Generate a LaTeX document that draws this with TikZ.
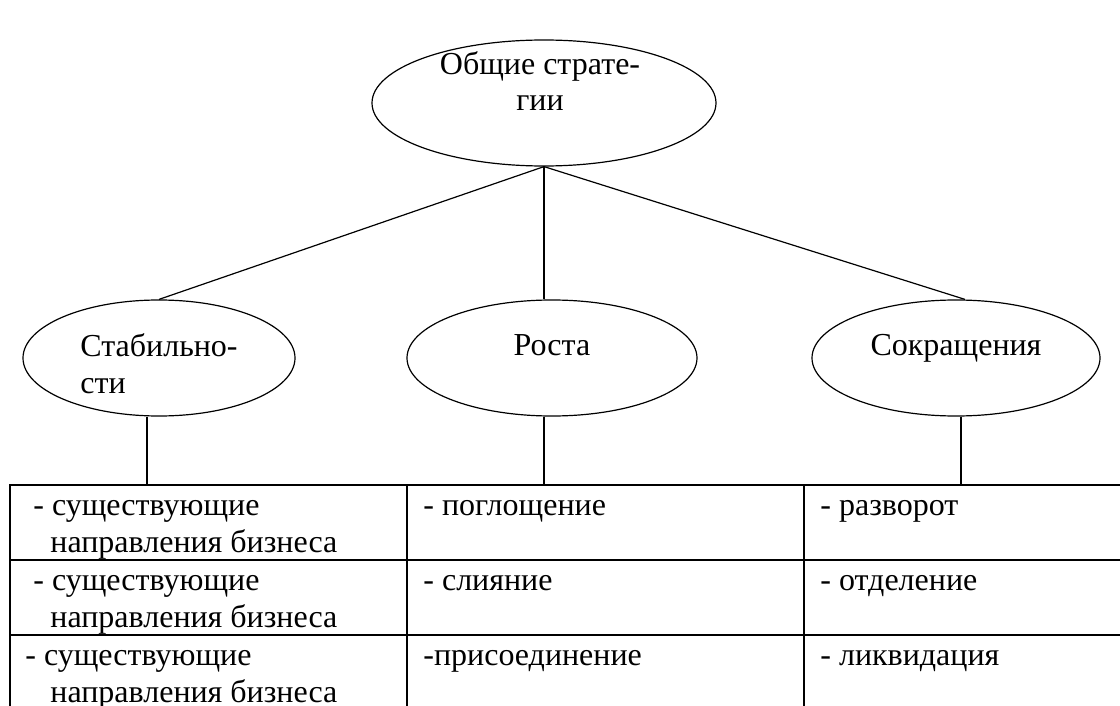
\documentclass[tikz,border=0pt]{standalone}
\usepackage{fontspec}
\setmainfont{Liberation Serif}
\usetikzlibrary{positioning, calc, shapes.geometric}
\tikzset{
  stratfig/.style={
    x=0.5pt, y=-0.5pt,
    every node/.append style={font=\fontsize{16}{18.4}\selectfont},
  },
  stratnode/.style={draw, ellipse, line width=0.6pt, inner sep=0pt},
  stratlabel/.style={inner sep=0pt, align=center, anchor=base},
  link/.style={draw, line width=0.6pt},
  cellline/.style={draw, line width=1pt},
  celltext/.style={inner sep=0pt, align=left, anchor=base west},
}

\begin{document}
\begin{tikzpicture}[stratfig]
  \useasboundingbox (0,0) rectangle (1120,706);
  % Ellipsen
  \node[stratnode, minimum width=172pt, minimum height=63pt] (General) at (544,103) {};
  \node[stratnode, minimum width=136pt, minimum height=58pt] (Stability) at (159,358) {};
  \node[stratnode, minimum width=145pt, minimum height=58pt] (Growth) at (552,358) {};
  \node[stratnode, minimum width=144pt, minimum height=58pt] (Reduction) at (956,358) {};
  % Basislinie = letzte Zeile
  \node[stratlabel] (GeneralText) at (540,111) {Общие страте-\\гии};
  \node[stratlabel, align=left, anchor=base west] (StabilityText) at (80,393) {Стабильно-\\сти};
  \node[stratlabel] (GrowthText) at (552,355) {Роста};
  \node[stratlabel] (ReductionText) at (956,355) {Сокращения};
  % Tabelle
  \coordinate (TableTop) at (10,485);
  \draw[cellline] (1120,485) -- (TableTop) -- (10,706);
  \draw[cellline] (10,560) -- (1120,560);
  \draw[cellline] (10,635) -- (1120,635);
  \draw[cellline] (407,485) -- (407,706);
  \draw[cellline] (804,485) -- (804,706);
  % Verbindungen
  \coordinate (StabFoot) at ($(Stability.south)+(-12,0)$);
  \coordinate (RedHead) at ($(Reduction.north)+(9,0)$);
  \coordinate (RedFoot) at ($(Reduction.south)+(5,0)$);
  \draw[link] (General.south) -- (Stability.north);
  \draw[link] (General.south) -- (General.south |- Growth.north);
  \draw[link] (General.south) -- (RedHead);
  \draw[link] (StabFoot) -- (StabFoot |- TableTop);
  \draw[link] (General.south |- Growth.south) -- (General.south |- TableTop);
  \draw[link] (RedFoot) -- (RedFoot |- TableTop);
  % Zellen
  \node[celltext] (Stab1) at (33,552) {- существующие\\\hspace*{8.5pt}направления бизнеса};
  \node[celltext] (Stab2) at (33,627) {- существующие\\\hspace*{8.5pt}направления бизнеса};
  \node[celltext] (Stab3) at (25,702) {- существующие\\\hspace*{12.5pt}направления бизнеса};
  \node[celltext] (Grow1) at (423,515) {- поглощение};
  \node[celltext] (Grow2) at (423,590) {- слияние};
  \node[celltext] (Grow3) at (423,665) {-присоединение};
  \node[celltext] (Red1) at (820,515) {- разворот};
  \node[celltext] (Red2) at (820,590) {- отделение};
  \node[celltext] (Red3) at (820,665) {- ликвидация};
\end{tikzpicture}
\end{document}
